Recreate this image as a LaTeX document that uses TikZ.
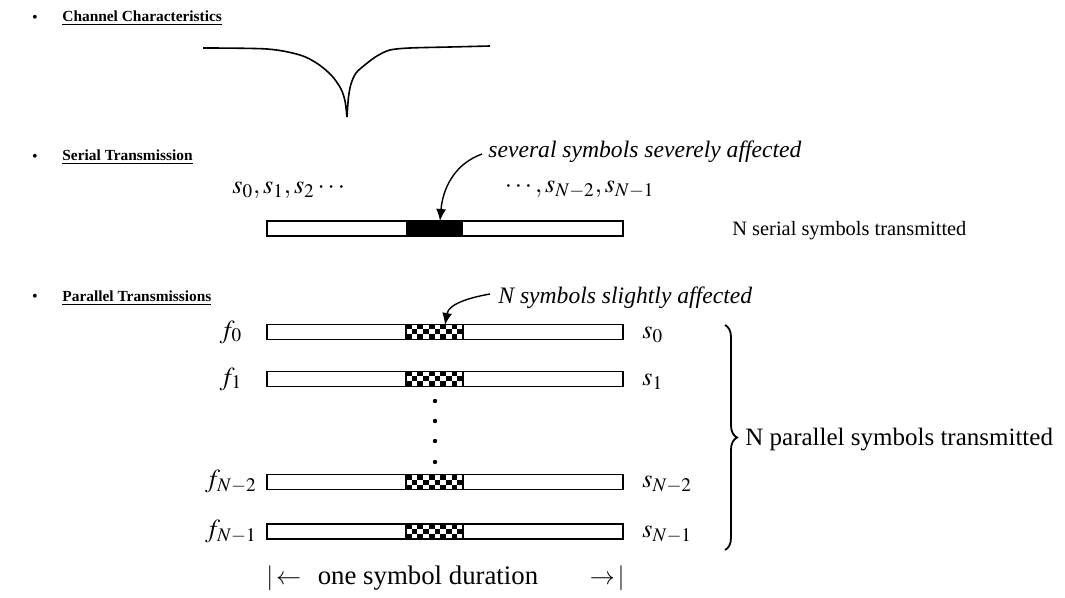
\documentclass[tikz,border=0pt]{standalone}
\usepackage{mathptmx}
\usepackage{fontspec}
\setmainfont{Liberation Serif}
\usetikzlibrary{arrows.meta, positioning, decorations.pathreplacing}
\tikzset{
	heading/.style={anchor=west, inner sep=0pt, font=\fontsize{7.7}{9}\selectfont\bfseries},
	bull/.style={inner sep=0pt, font=\fontsize{8}{9}\selectfont},
	txt/.style={inner sep=0pt, font=\fontsize{12.5}{14}\selectfont},
	small txt/.style={inner sep=0pt, font=\fontsize{10.2}{12}\selectfont},
	note/.style={inner sep=0pt, anchor=west, font=\fontsize{11.8}{14}\selectfont\itshape},
	sym/.style={inner sep=0pt, font=\fontsize{13}{15}\selectfont},
	bar/.style={draw, minimum width=178pt, minimum height=7.5pt, inner sep=0pt, line width=0.6pt},
	annot/.style={-{Latex[length=6pt,width=5pt]}, line width=0.7pt}
}

\begin{document}
\begin{tikzpicture}[x=0.5pt, y=-0.5pt]
	\useasboundingbox (0,0) rectangle (1065,598);
	
	% Channel Characteristics
	\node[bull] (b-1) at (35,19) {\textbullet};
	\node[heading] (h-1) at (62,18) {\underline{Channel Characteristics}};
	\draw[line width=0.8pt] plot[smooth, tension=0.5] coordinates {(203,48) (267,49) (300,55) (318,64) (332,76) (341,89) (345,101) (347,117)}
		plot[smooth, tension=0.5] coordinates {(347,117) (348.5,97) (351,84) (356,73) (366,64) (377,56) (390,50) (410,48) (450,47) (490,46)};
	
	% Serial Transmission
	\node[bull] (b-2) at (35,158) {\textbullet};
	\node[heading] (h-2) at (62,157) {\underline{Serial Transmission}};
	\node[bar] (sbar) at (445,228.5) {};
	\fill (406,221) rectangle (463,236);
	\node[sym, anchor=west] (s-first) at (232,190) {$s_0,s_1,s_2\cdots$};
	\node[sym, anchor=east] (s-last) at (655,190) {$\cdots,s_{N-2},s_{N-1}$};
	\node[note] (sev) at (488,152) {several symbols severely affected};
	\coordinate (hit-s) at (440,221);
	\draw[annot] ([xshift=-3pt,yshift=-1pt]sev.west) to[out=200,in=85] (hit-s);
	\node[small txt, anchor=west] (ser-txt) at (732,231) {N serial symbols transmitted};
	
	% Parallel Transmissions
	\node[bull] (b-3) at (35,298) {\textbullet};
	\node[heading] (h-3) at (62,298) {\underline{Parallel Transmissions}};
	\node[note] (sli) at (498,298) {N symbols slightly affected};
	\foreach \k/\y/\fl/\sl in {0/332/f_0/s_0, 1/379/f_1/s_1, 2/482/f_{N-2}/s_{N-2}, 3/531.5/f_{N-1}/s_{N-1}} {
		\node[bar] (pbar-\k) at (445,\y) {};
		\node[sym] (f-\k) at (231,\y) {$\fl$};
		\node[sym, anchor=west] (s-\k) at (642,\y+3) {$\sl$};
		% checker block
		\foreach \i in {0,...,9}
		\foreach \j in {0,...,2} {
			\pgfmathtruncatemacro\cc{mod(\i+\j,2)}
			\ifnum\cc=0 \fill (406+\i*5.7,\y-7.5+\j*5) rectangle ++(5.7,5); \fi
		}
		\draw[line width=0.6pt] (406,\y-7.5) rectangle (463,\y+7.5);
	}
	\foreach \y in {401,421,441,462}
	\fill (435,\y) circle (2.2);
	\coordinate (hit-p) at (445,325);
	\draw[annot] ([xshift=-4pt,yshift=2pt]sli.west) to[out=190,in=80] (hit-p);
	
	% Brace
	\coordinate (br-top) at (725,325);
	\coordinate (br-bot) at (725,550);
	\draw[decorate, decoration={brace, amplitude=6pt}, line width=0.9pt] (br-top) -- (br-bot);
	\node[txt, anchor=west] (par-txt) at (745,440) {N parallel symbols transmitted};
	
	% Symbol duration
	\node[txt, font=\fontsize{13.4}{15}\selectfont] (dur) at (428,578) {one symbol duration};
	\node[txt, anchor=west] (dur-l) at (266,578) {$|\!\leftarrow$};
	\node[txt, anchor=east] (dur-r) at (625,578) {$\rightarrow\!|$};
\end{tikzpicture}
\end{document}
